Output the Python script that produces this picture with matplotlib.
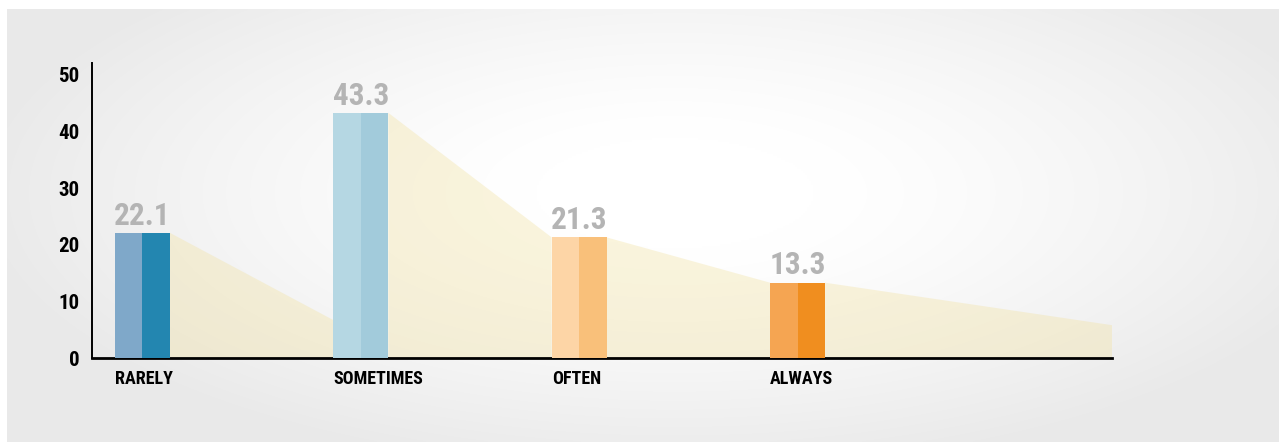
#!/usr/bin/env python3
"""Two-tone bar chart with a trailing shadow behind each bar."""

import numpy as np
import matplotlib
matplotlib.use("Agg")
import matplotlib.pyplot as plt
from matplotlib.patches import Polygon

plt.rcParams["font.family"] = ["Roboto Condensed", "DejaVu Sans"]

categories = ["RARELY", "SOMETIMES", "OFTEN", "ALWAYS"]
values = [22.1, 43.3, 21.3, 13.3]
# height the shadow of each bar has dropped to at its right end
shadow_end = [6.7, 21.3, 13.3, 5.8]
y_ticks = [0, 10, 20, 30, 40, 50]

light_colors = ["#7FA8C9", "#B5D7E3", "#FDD5A6", "#F5A552"]
dark_colors = ["#2386B0", "#A2CBDB", "#F9C07A", "#F08E1F"]

W, H = 1279, 442
fig = plt.figure(figsize=(W / 100, H / 100), dpi=100)
fig.patch.set_facecolor("white")

# soft radial vignette behind everything
bg = fig.add_axes([7 / W, 0, 1 - 7 / W, (H - 9) / H], zorder=0)
gx, gy = np.meshgrid(np.linspace(-1, 1, 640), np.linspace(-1, 1, 220))
r = np.sqrt(((gx - 0.05) / 1.1) ** 2 + ((gy + 0.15) / 1.3) ** 2)
shade = np.clip(1 - 0.085 * np.clip(r - 0.2, 0, None) ** 1.3 / 0.75, 0.915, 1.0)
bg.imshow(np.dstack([shade, shade, shade]), aspect="auto", extent=(0, 1, 0, 1),
          interpolation="bilinear")
bg.set_axis_off()

ax = fig.add_axes([92 / W, (H - 358) / H, (1112 - 92) / W, (358 - 63) / H], zorder=1)
ax.patch.set_alpha(0)

x = np.arange(len(categories))
width = 0.252
xmax = 4.44

# shadows: from the top right corner of each bar down to the next bar
for i, v in enumerate(values):
    x0 = x[i] + width / 2
    x1 = x[i + 1] - width / 2 if i + 1 < len(values) else xmax
    poly = Polygon([(x0, 0), (x0, v), (x1, shadow_end[i]), (x1, 0)],
                   closed=True, facecolor="#F2E2A2", alpha=0.37,
                   edgecolor="none", zorder=1)
    ax.add_patch(poly)

ax.bar(x - width / 4, values, width=width / 2, color=light_colors, zorder=3)
ax.bar(x + width / 4, values, width=width / 2, color=dark_colors, zorder=3)

for xi, v in zip(x, values):
    ax.text(xi, v + 0.4, f"{v}", ha="center", va="bottom", fontsize=22.5,
            fontweight="bold", color="#B4B4B4", zorder=4)

ax.set_xlim(-0.231, xmax)
ax.set_ylim(0, 52.1)
ax.set_xticks(x - width / 2)
ax.set_xticklabels(categories, ha="left", fontsize=13, fontweight="bold")
ax.set_yticks(y_ticks)
ax.set_yticklabels([str(t) for t in y_ticks], fontsize=15, fontweight="bold")
ax.tick_params(axis="both", length=0, colors="black")
ax.tick_params(axis="x", pad=9)
ax.tick_params(axis="y", pad=9)

for side in ("top", "right"):
    ax.spines[side].set_visible(False)
ax.spines["left"].set_linewidth(1.4)
ax.spines["bottom"].set_linewidth(2.0)

fig.savefig("out.png", dpi=100)
